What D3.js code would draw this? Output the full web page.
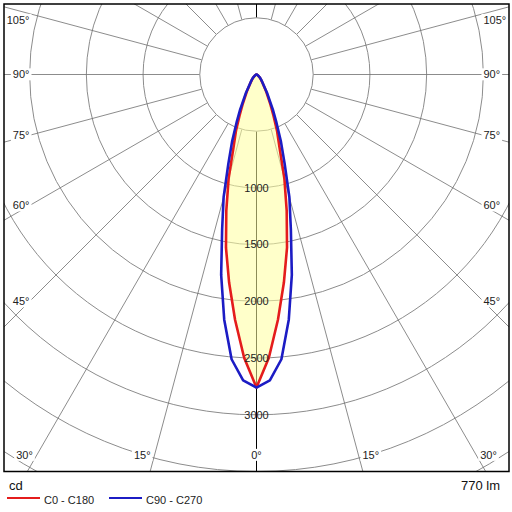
<!DOCTYPE html>
<html>
<head>
<meta charset="utf-8">
<script src="https://cdn.jsdelivr.net/npm/d3@7"></script>
<style>
    body { margin: 0; background: #fff; }
    svg { display: block; font-family: "Liberation Sans", Arial, sans-serif; }
</style>
</head>
<body>
<div id="chart"></div>
<script>
// gamma angles in degrees from nadir, intensities in cd
const gammaAngles = [0, 2.5, 5, 7.5, 10, 12.5, 15, 17.5, 20, 22.5, 25, 30, 35, 40, 45, 50, 60, 70, 80, 90];
const c0c180 = [2760, 2500, 2170, 1850, 1550, 1230, 950, 675, 530, 390, 290, 165, 95, 65, 45, 30, 12, 5, 2, 0];
const c90c270 = [2760, 2700, 2520, 2180, 1794, 1400, 1120, 825, 630, 460, 340, 185, 100, 70, 50, 32, 14, 6, 2, 0];

const ringValues = [500, 1000, 1500, 2000, 2500, 3000, 3500, 4000];
const ringLabels = [1000, 1500, 2000, 2500, 3000];
const spokeAngles = d3.range(0, 360, 15);
const angleLabels = [0, 15, 30, 45, 60, 75, 90, 105];
const seriesNames = ["C0 - C180", "C90 - C270"];
const unitLabel = "cd";
const fluxLabel = "770 lm";

const config = {
    width: 512,
    height: 512,
    frame: { left: 4, top: 4, right: 509, bottom: 471.5 },
    center: { x: 256.5, y: 74.5 },
    maxValue: 3500,
    colors: ["#e41c1c", "#1c1cc4"],
    fill: "#ffff9e",
    labelInset: 227,
    bottomLabelY: 455
};

const f = config.frame;
const cx = config.center.x, cy = config.center.y;

const r = d3.scaleLinear()
    .domain([0, config.maxValue])
    .range([0, f.bottom - cy]);

const rad = d => d * Math.PI / 180;

const svg = d3.select("#chart")
    .append("svg")
    .attr("width", config.width)
    .attr("height", config.height);

svg.append("defs")
    .append("clipPath")
    .attr("id", "clip")
    .append("rect")
    .attr("x", f.left)
    .attr("y", f.top)
    .attr("width", f.right - f.left)
    .attr("height", f.bottom - f.top);

const g = svg.append("g")
    .attr("clip-path", "url(#clip)")
    .append("g")
    .attr("transform", `translate(${cx},${cy})`);

// rings
g.selectAll(".ring")
    .data(ringValues.slice(1))
    .enter().append("circle")
    .attr("class", "ring")
    .attr("r", d => r(d))
    .style("fill", "none")
    .style("stroke", "#8c8c8c")
    .style("stroke-width", 1);

// spokes, measured from nadir
g.selectAll(".spoke")
    .data(spokeAngles)
    .enter().append("line")
    .attr("class", "spoke")
    .attr("x1", d => r(ringValues[0]) * Math.sin(rad(d)))
    .attr("y1", d => r(ringValues[0]) * Math.cos(rad(d)))
    .attr("x2", d => 800 * Math.sin(rad(d)))
    .attr("y2", d => 800 * Math.cos(rad(d)))
    .style("stroke", d => (d % 180 === 0) ? "#000" : "#6e6e6e")
    .style("stroke-width", d => (d % 180 === 0) ? 1 : 0.8);

g.append("circle")
    .attr("r", r(ringValues[0]))
    .style("fill", "#fff")
    .style("stroke", "#8c8c8c")
    .style("stroke-width", 1);

// closed outline: right half from 90 down to 0, then left half 0 up to 90
function outline(values) {
    const pts = [];
    for (let i = values.length - 1; i >= 0; i--) pts.push({ a: Math.PI - rad(gammaAngles[i]), v: values[i] });
    for (let i = 1; i < values.length; i++) pts.push({ a: Math.PI + rad(gammaAngles[i]), v: values[i] });
    return pts;
}

const radial = d3.lineRadial()
    .angle(d => d.a)
    .radius(d => r(d.v))
    .curve(d3.curveLinear);

g.append("path")
    .attr("d", radial(outline(c0c180)) + "Z")
    .style("fill", config.fill)
    .style("fill-opacity", 0.55)
    .style("stroke", "none");

[c0c180, c90c270].forEach((vals, i) => {
    g.append("path")
        .attr("d", radial(outline(vals)) + "Z")
        .style("fill", "none")
        .style("stroke", config.colors[i])
        .style("stroke-width", 2.6)
        .style("stroke-linejoin", "round");
});

// intensity labels on the nadir axis
g.selectAll(".rlabel")
    .data(ringLabels)
    .enter().append("text")
    .attr("class", "rlabel")
    .attr("x", 0)
    .attr("y", d => r(d))
    .attr("dy", "0.35em")
    .attr("text-anchor", "middle")
    .style("font-size", "11px")
    .style("fill", "#222")
    .text(d => d);

// angle labels along the frame, both sides
const labelItems = [];
angleLabels.forEach(a => {
    [-1, 1].forEach(side => {
        if (a === 0 && side === 1) return;
        const sideY = cy + config.labelInset / Math.tan(rad(a));
        let x, y, anchor;
        if (a === 0) {
            x = cx; y = config.bottomLabelY; anchor = "middle";
        } else if (sideY > config.bottomLabelY) {
            const dx = (config.bottomLabelY - cy) * Math.tan(rad(a));
            x = cx + side * (dx + 4); y = config.bottomLabelY;
            anchor = side < 0 ? "end" : "start";
        } else {
            x = cx + side * config.labelInset;
            y = Math.max(sideY, f.top + 16);
            anchor = side < 0 ? "end" : "start";
        }
        labelItems.push({ text: a + "°", x, y, anchor });
    });
});

const al = svg.selectAll(".alabel")
    .data(labelItems)
    .enter().append("g")
    .attr("class", "alabel");

al.append("text")
    .attr("x", d => d.x)
    .attr("y", d => d.y)
    .attr("dy", "0.35em")
    .attr("text-anchor", d => d.anchor)
    .style("font-size", "11px")
    .style("fill", "#222")
    .text(d => d.text);

al.each(function () {
    const t = d3.select(this).select("text");
    const b = t.node().getBBox();
    d3.select(this).insert("rect", "text")
        .attr("x", b.x - 2)
        .attr("y", b.y)
        .attr("width", b.width + 4)
        .attr("height", b.height)
        .style("fill", "#fff");
});

// frame
svg.append("rect")
    .attr("x", f.left)
    .attr("y", f.top)
    .attr("width", f.right - f.left)
    .attr("height", f.bottom - f.top)
    .style("fill", "none")
    .style("stroke", "#000")
    .style("stroke-width", 1.5);

// footer
svg.append("text")
    .attr("x", 9)
    .attr("y", 490)
    .style("font-size", "13px")
    .style("fill", "#111")
    .text(unitLabel);

svg.append("text")
    .attr("x", 500)
    .attr("y", 490)
    .attr("text-anchor", "end")
    .style("font-size", "13px")
    .style("fill", "#111")
    .text(fluxLabel);

const legend = svg.selectAll(".legend")
    .data(seriesNames)
    .enter().append("g")
    .attr("class", "legend")
    .attr("transform", (d, i) => `translate(${7 + i * 102},498)`);

legend.append("line")
    .attr("x1", 0)
    .attr("x2", 33)
    .style("stroke", (d, i) => config.colors[i])
    .style("stroke-width", 2);

legend.append("text")
    .attr("x", 37)
    .attr("y", 6)
    .style("font-size", "11px")
    .style("fill", "#222")
    .text(d => d);
</script>
</body>
</html>
